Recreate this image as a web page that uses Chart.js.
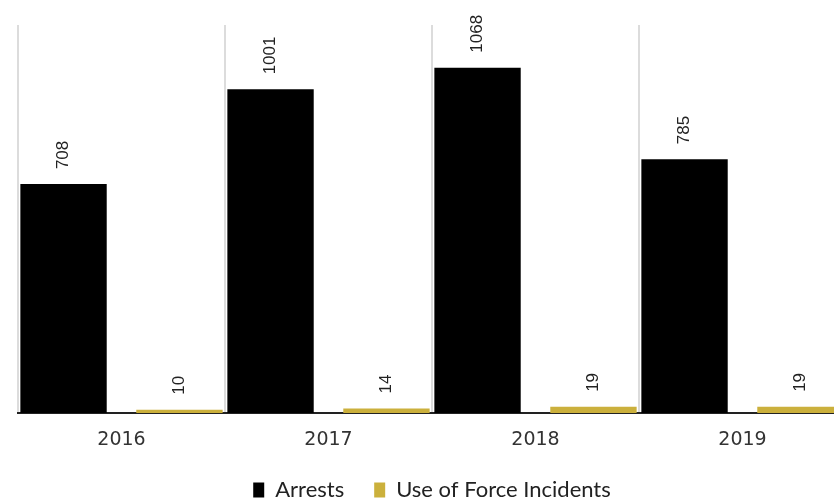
<!DOCTYPE html>
<html>
<head>
<meta charset="utf-8">
<script src="https://cdn.jsdelivr.net/npm/chart.js@4.4.1/dist/chart.umd.min.js"></script>
<style>
  html, body { margin: 0; padding: 0; background: #fff; overflow: hidden; }
  #wrap { width: 846px; height: 499px; }
</style>
</head>
<body>
<div id="wrap"><canvas id="chart"></canvas></div>
<script>
const years = ["2016", "2017", "2018", "2019"];
const arrests = [708, 1001, 1068, 785];
const forceIncidents = [10, 14, 19, 19];

// draws the rotated value labels above each bar
const valueLabels = {
  id: "valueLabels",
  afterDatasetsDraw(chart) {
    const ctx = chart.ctx;
    ctx.save();
    ctx.font = "17px 'Liberation Sans', Arial, sans-serif";
    ctx.fillStyle = "#222";
    ctx.textAlign = "left";
    ctx.textBaseline = "middle";
    chart.data.datasets.forEach((ds, i) => {
      chart.getDatasetMeta(i).data.forEach((bar, j) => {
        ctx.save();
        ctx.translate(bar.x, bar.y - 15);
        ctx.rotate(-Math.PI / 2);
        ctx.fillText(ds.data[j], 0, 0);
        ctx.restore();
      });
    });
    ctx.restore();
  }
};

new Chart(document.getElementById("chart"), {
  type: "bar",
  data: {
    labels: years,
    datasets: [
      {
        label: "Arrests",
        data: arrests,
        backgroundColor: "#000000",
        categoryPercentage: 1.12,
        barPercentage: 0.745
      },
      {
        label: "Use of Force Incidents",
        data: forceIncidents,
        backgroundColor: "#cbb03c",
        categoryPercentage: 1.12,
        barPercentage: 0.745
      }
    ]
  },
  options: {
    responsive: true,
    maintainAspectRatio: false,
    animation: false,
    layout: { padding: { left: 18, right: 0, top: 25, bottom: 0 } },
    scales: {
      x: {
        grid: { color: "#dcdcdc", lineWidth: 2, drawTicks: false },
        border: { color: "#222", width: 2 },
        ticks: {
          color: "#333",
          padding: 16,
          font: { family: "'DejaVu Sans', sans-serif", size: 19 }
        },
        afterFit(scale) {
          scale.height = 36;
        }
      },
      y: {
        display: false,
        min: 0,
        max: 1200
      }
    },
    plugins: {
      legend: {
        position: "bottom",
        maxHeight: 50,
        labels: {
          color: "#222",
          boxWidth: 11,
          boxHeight: 15,
          padding: 30,
          font: { family: "Lato, sans-serif", size: 22 }
        }
      },
      tooltip: { enabled: false }
    }
  },
  plugins: [valueLabels]
});
</script>
</body>
</html>
